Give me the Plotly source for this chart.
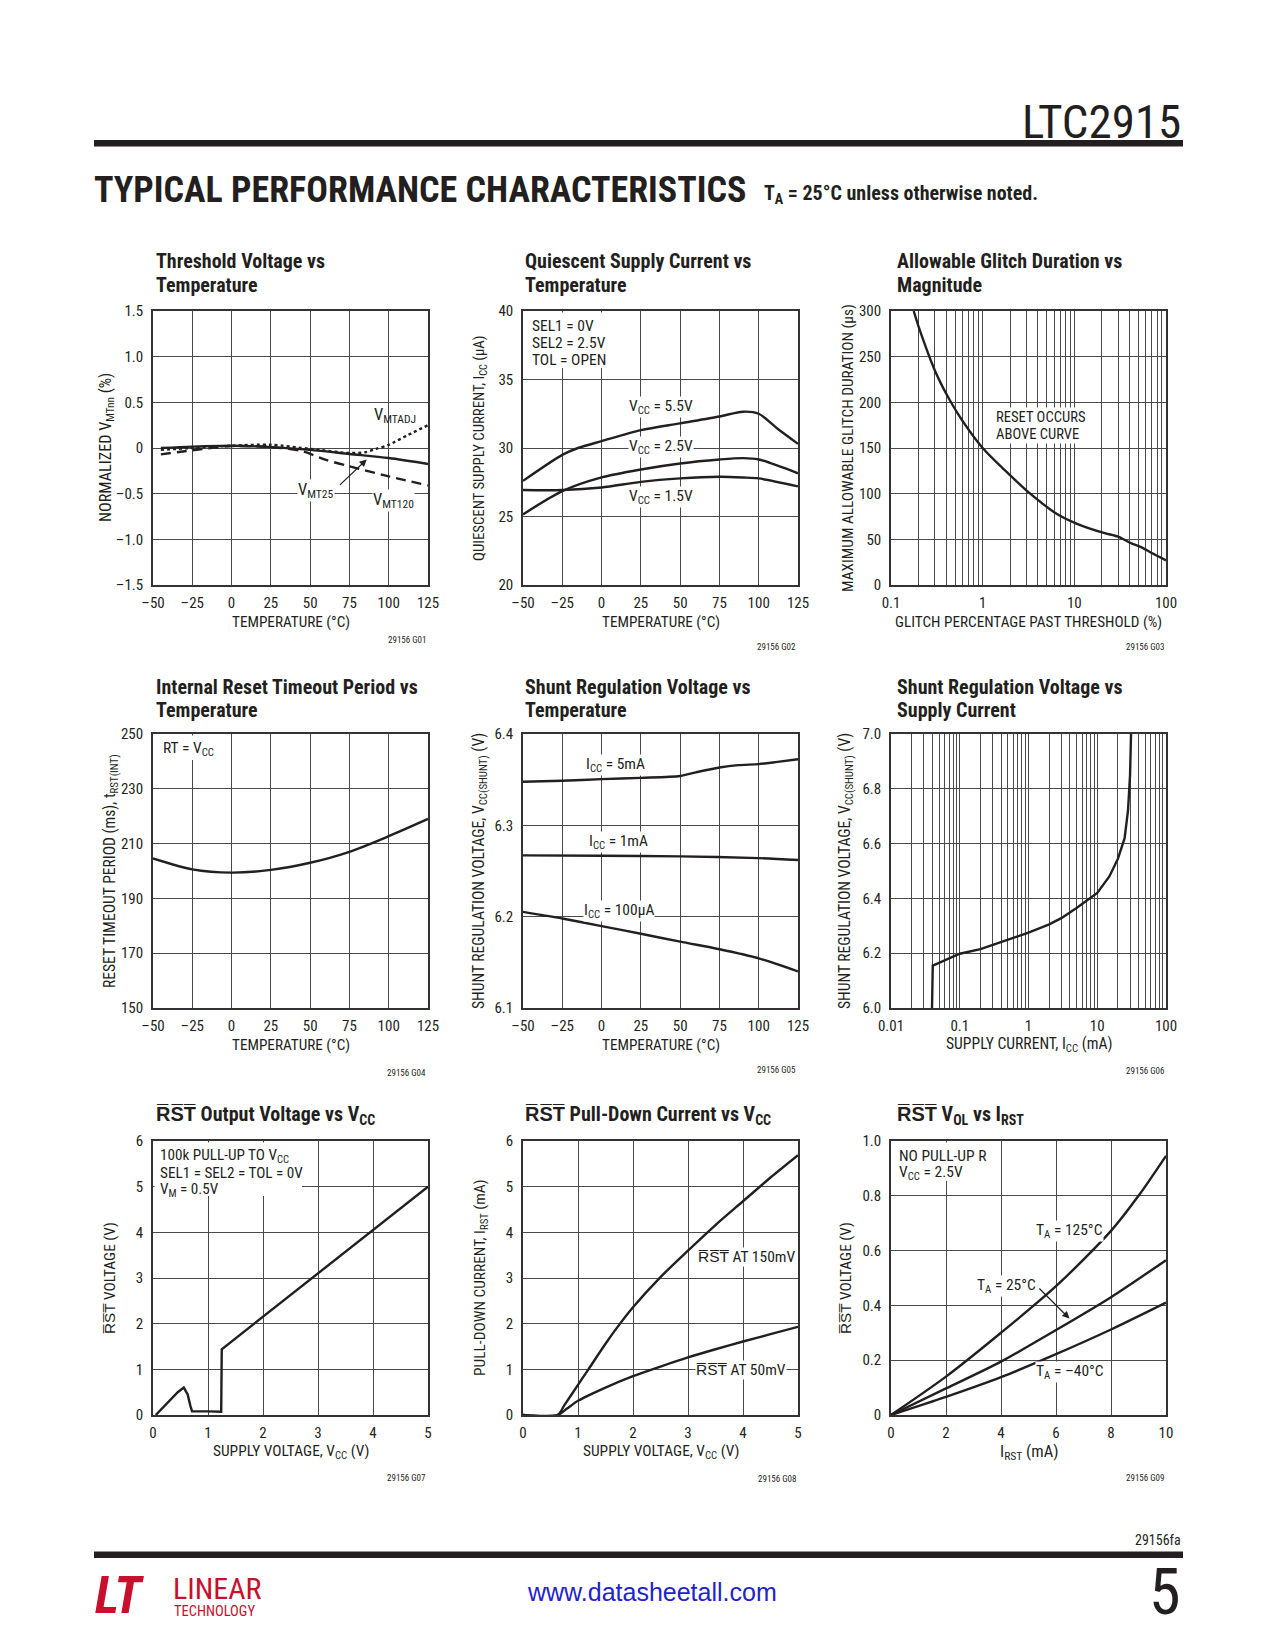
import math
import plotly.graph_objects as go

W, H = 1275, 1650
OFF = 8  # page body margin of the viewer
FN = "Roboto Condensed, Liberation Sans, Arial, sans-serif"
FURL = "Liberation Sans, Arial, sans-serif"
INK = "#231f20"
GRID = "#4a4a4a"


def px(x):
    return (x - OFF) / W


def py(y):
    return 1 - (y - OFF) / H


# ------------------------------------------------------------------ data
temp_ticks = [-50, -25, 0, 25, 50, 75, 100, 125]
temp_ticktext = ["–50", "–25", "0", "25", "50", "75", "100", "125"]

# G01 threshold voltage vs temperature
g01_t25 = [-45, -25, 0, 25, 50, 75, 100, 125]
g01_vmt25 = [0.0, 0.015, 0.025, 0.01, -0.02, -0.065, -0.11, -0.175]
g01_t120 = [-45, -25, 0, 25, 45, 60, 75, 100, 125]
g01_vmt120 = [-0.07, -0.025, 0.02, 0.01, -0.035, -0.13, -0.2, -0.31, -0.41]
g01_tadj = [-45, -25, 0, 25, 50, 75, 85, 92, 100, 112, 125]
g01_vmtadj = [-0.02, 0.0, 0.025, 0.035, -0.01, -0.055, -0.047, -0.01, 0.035, 0.14, 0.25]
g01_yticks = [-1.5, -1.0, -0.5, 0, 0.5, 1.0, 1.5]
g01_ytext = ["–1.5", "–1.0", "–0.5", "0", "0.5", "1.0", "1.5"]

# G02 quiescent supply current vs temperature
g02_t55 = [-50, -25, -15, 0, 25, 50, 75, 90, 100, 112, 125]
g02_vcc55 = [27.6, 29.5, 30.0, 30.5, 31.3, 31.8, 32.3, 32.65, 32.5, 31.4, 30.3]
g02_t = [-50, -25, 0, 25, 50, 75, 90, 100, 125]
g02_vcc25 = [25.15, 26.85, 27.85, 28.43, 28.87, 29.16, 29.26, 29.16, 28.15]
g02_vcc15 = [26.93, 26.93, 27.12, 27.53, 27.78, 27.9, 27.85, 27.78, 27.2]
g02_yticks = [20, 25, 30, 35, 40]

# G03 allowable glitch duration vs magnitude
g03_pct = [0.177, 0.2, 0.313, 0.44, 0.6, 1.0, 2.0, 3.3, 6.4, 10.7, 21, 30, 41, 55, 70, 100]
g03_us = [300, 283, 231, 202, 180, 150, 120, 100, 78, 67, 57, 53, 46, 41, 35, 27]
g03_yticks = [0, 50, 100, 150, 200, 250, 300]

# G04 internal reset timeout period vs temperature
g04_t = [-50, -25, 0, 25, 50, 75, 100, 125]
g04_ms = [204.6, 200.6, 199.4, 200.4, 203.0, 207.0, 212.7, 219.0]
g04_yticks = [150, 170, 190, 210, 230, 250]

# G05 shunt regulation voltage vs temperature
g05_t5 = [-50, -25, 0, 25, 50, 60, 75, 87, 100, 112, 125]
g05_icc5 = [6.3477, 6.3488, 6.3506, 6.352, 6.354, 6.358, 6.3633, 6.3659, 6.367, 6.3695, 6.3724]
g05_t1 = [-50, 0, 50, 100, 125]
g05_icc1 = [6.2671, 6.2667, 6.266, 6.2641, 6.262]
g05_t01 = [-50, -25, 0, 25, 50, 75, 100, 125]
g05_icc01 = [6.2053, 6.198, 6.1897, 6.1813, 6.1726, 6.1643, 6.1544, 6.140]
g05_yticks = [6.1, 6.2, 6.3, 6.4]
g05_ytext = ["6.1", "6.2", "6.3", "6.4"]

# G06 shunt regulation voltage vs supply current
g06_ma = [0.0395, 0.0405, 0.05, 0.07, 0.1, 0.2, 0.3, 0.5, 1, 2, 3, 5, 10, 15, 20, 25, 28, 30, 31]
g06_v = [6.0, 6.155, 6.165, 6.18, 6.198, 6.215, 6.23, 6.248, 6.275, 6.305, 6.328, 6.365,
         6.42, 6.48, 6.545, 6.62, 6.72, 6.85, 7.0]
g06_yticks = [6.0, 6.2, 6.4, 6.6, 6.8, 7.0]
g06_ytext = ["6.0", "6.2", "6.4", "6.6", "6.8", "7.0"]

# G07 RST output voltage vs VCC
g07_vcc = [0.05, 0.3, 0.45, 0.56, 0.63, 0.68, 0.71, 1.0, 1.24, 1.25, 5.0]
g07_vrst = [0.0, 0.3, 0.5, 0.6, 0.45, 0.2, 0.08, 0.08, 0.07, 1.44, 5.0]

# G08 RST pull-down current vs VCC
g08_v150 = [0, 0.63, 0.75, 1.0, 1.19, 1.5, 1.72, 2.0, 2.5, 3.0, 3.5, 4.0, 4.5, 5.0]
g08_i150 = [0, 0, 0.21, 0.66, 1.0, 1.56, 1.93, 2.36, 3.02, 3.6, 4.16, 4.68, 5.2, 5.69]
g08_v50 = [0, 0.63, 0.8, 1.0, 1.5, 2.0, 2.5, 3.0, 3.5, 4.0, 4.5, 5.0]
g08_i50 = [0, 0, 0.14, 0.31, 0.6, 0.85, 1.06, 1.26, 1.44, 1.61, 1.77, 1.93]
g0708_ticks = [0, 1, 2, 3, 4, 5]
g0708_yticks = [0, 1, 2, 3, 4, 5, 6]

# G09 RST VOL vs IRST
g09_ma = [0, 2, 4, 6, 8, 9, 10]
g09_125 = [0, 0.14, 0.30, 0.47, 0.672, 0.8, 0.946]
g09_ma2 = [0, 2, 4, 6, 8, 10]
g09_25 = [0, 0.097, 0.195, 0.31, 0.43, 0.565]
g09_m40 = [0, 0.066, 0.138, 0.222, 0.312, 0.41]
g09_xticks = [0, 2, 4, 6, 8, 10]
g09_yticks = [0, 0.2, 0.4, 0.6, 0.8, 1.0]
g09_ytext = ["0", "0.2", "0.4", "0.6", "0.8", "1.0"]

# log axis grids
g03_grid = [m * d for d in (0.1, 1, 10) for m in range(1, 10)] + [100]
g03_gridtext = [{0.1: "0.1", 1: "1", 10: "10", 100: "100"}.get(round(v, 6), "") for v in g03_grid]
g06_grid = [m * d for d in (0.01, 0.1, 1, 10) for m in range(1, 10)] + [100]
g06_gridtext = [{0.01: "0.01", 0.1: "0.1", 1: "1", 10: "10", 100: "100"}.get(round(v, 6), "") for v in g06_grid]

RST = "R\u0305S\u0305T\u0305"

# ------------------------------------------------------------------ layout geometry
COL_L = [153, 523, 891]
ROW_T = [311, 734, 1141]
PW, PH = 275, 274

fig = go.Figure()

LINE = dict(color=INK, width=2.4)


def add(n, x, y, dash=None, shape="spline", smoothing=0.8):
    ln = dict(LINE)
    if dash:
        ln["dash"] = dash
    fig.add_trace(go.Scatter(x=x, y=y, mode="lines", line=ln, line_shape=shape,
                             line_smoothing=smoothing if shape == "spline" else None,
                             xaxis="x" + ("" if n == 1 else str(n)),
                             yaxis="y" + ("" if n == 1 else str(n)),
                             showlegend=False, hoverinfo="skip"))


add(1, g01_t25, g01_vmt25)
add(1, g01_t120, g01_vmt120, dash="10px,6px")
add(1, g01_tadj, g01_vmtadj, dash="dot")
add(2, g02_t55, g02_vcc55)
add(2, g02_t, g02_vcc25)
add(2, g02_t, g02_vcc15)
add(3, g03_pct, g03_us)
add(4, g04_t, g04_ms)
add(5, g05_t5, g05_icc5)
add(5, g05_t1, g05_icc1)
add(5, g05_t01, g05_icc01)
add(6, g06_ma, g06_v, shape="linear")
add(7, g07_vcc, g07_vrst, shape="linear")
add(8, g08_v150, g08_i150, smoothing=0.8)
add(8, g08_v50, g08_i50, smoothing=0.8)
add(9, g09_ma, g09_125)
add(9, g09_ma2, g09_25)
add(9, g09_ma2, g09_m40)

configs = [
    dict(xr=[-50, 125], xt="linear", xv=temp_ticks, xs=temp_ticktext, yr=[-1.5, 1.5], yv=g01_yticks, ys=g01_ytext),
    dict(xr=[-50, 125], xt="linear", xv=temp_ticks, xs=temp_ticktext, yr=[20, 40], yv=g02_yticks, ys=[str(v) for v in g02_yticks]),
    dict(xr=[-1, 2], xt="log", xv=g03_grid, xs=g03_gridtext, yr=[0, 300], yv=g03_yticks, ys=[str(v) for v in g03_yticks]),
    dict(xr=[-50, 125], xt="linear", xv=temp_ticks, xs=temp_ticktext, yr=[150, 250], yv=g04_yticks, ys=[str(v) for v in g04_yticks]),
    dict(xr=[-50, 125], xt="linear", xv=temp_ticks, xs=temp_ticktext, yr=[6.1, 6.4], yv=g05_yticks, ys=g05_ytext),
    dict(xr=[-2, 2], xt="log", xv=g06_grid, xs=g06_gridtext, yr=[6.0, 7.0], yv=g06_yticks, ys=g06_ytext),
    dict(xr=[0, 5], xt="linear", xv=g0708_ticks, xs=[str(v) for v in g0708_ticks], yr=[0, 6], yv=g0708_yticks, ys=[str(v) for v in g0708_yticks]),
    dict(xr=[0, 5], xt="linear", xv=g0708_ticks, xs=[str(v) for v in g0708_ticks], yr=[0, 6], yv=g0708_yticks, ys=[str(v) for v in g0708_yticks]),
    dict(xr=[0, 10], xt="linear", xv=g09_xticks, xs=[str(v) for v in g09_xticks], yr=[0, 1], yv=g09_yticks, ys=g09_ytext),
]

TICKF = dict(family=FN, size=15, color=INK)
lay = {}
for i, c in enumerate(configs):
    n = i + 1
    r, k = divmod(i, 3)
    L, T = COL_L[k], ROW_T[r]
    sx = "" if n == 1 else str(n)
    common = dict(showgrid=True, gridcolor=GRID, gridwidth=1.3, showline=True, linecolor="#333333",
                  linewidth=1.6, mirror=True, ticks="", zeroline=False, tickfont=TICKF, fixedrange=True,
                  automargin=False)
    lay["xaxis" + sx] = dict(domain=[px(L), px(L + PW)], range=c["xr"], type=c["xt"], tickmode="array",
                             tickvals=c["xv"], ticktext=c["xs"], anchor="y" + sx, ticklabelstandoff=3, **common)
    lay["yaxis" + sx] = dict(domain=[py(T + PH), py(T)], range=c["yr"], tickmode="array",
                             tickvals=c["yv"], ticktext=c["ys"], anchor="x" + sx, ticklabelstandoff=5, **common)

ann = []
shapes = []


def txt(text, x, y, size=15, xanchor="center", yanchor="middle", angle=0, bold=False, color=INK,
        family=FN, xref="paper", yref="paper", bg=None, align="center"):
    d = dict(text=text, x=x, y=y, xref=xref, yref=yref, showarrow=False, xanchor=xanchor,
             yanchor=yanchor, textangle=angle, align=align,
             font=dict(family=family, size=size, color=color, weight="bold" if bold else "normal"))
    if bg:
        d["bgcolor"] = bg
        d["borderpad"] = 0
    ann.append(d)


# header
txt("LTC2915", px(1183), py(121), size=47, xanchor="right")
txt("TYPICAL PERFORMANCE CHARACTERISTICS", px(92), py(190), size=36, xanchor="left", bold=True)
txt("T<sub>A</sub> = 25°C unless otherwise noted.", px(762), py(194), size=20, xanchor="left", bold=True)

# chart titles
titles = [
    ["Threshold Voltage vs", "Temperature"],
    ["Quiescent Supply Current vs", "Temperature"],
    ["Allowable Glitch Duration vs", "Magnitude"],
    ["Internal Reset Timeout Period vs", "Temperature"],
    ["Shunt Regulation Voltage vs", "Temperature"],
    ["Shunt Regulation Voltage vs", "Supply Current"],
    [RST + " Output Voltage vs V<sub>CC</sub>"],
    [RST + " Pull-Down Current vs V<sub>CC</sub>"],
    [RST + " V<sub>OL</sub> vs I<sub>RST</sub>"],
]
title_y = [[261, 284.5], [687, 710], [1115]]
title_dx = [0, -1, 3]
for i, lines in enumerate(titles):
    r, k = divmod(i, 3)
    for j, t in enumerate(lines):
        txt(t, px(COL_L[k] + title_dx[k] + 1), py(title_y[r][j]), size=20, xanchor="left", bold=True)

# axis titles
xtitles = ["TEMPERATURE (°C)", "TEMPERATURE (°C)", "GLITCH PERCENTAGE PAST THRESHOLD (%)",
           "TEMPERATURE (°C)", "TEMPERATURE (°C)", "SUPPLY CURRENT, I<sub>CC</sub> (mA)",
           "SUPPLY VOLTAGE, V<sub>CC</sub> (V)", "SUPPLY VOLTAGE, V<sub>CC</sub> (V)", "I<sub>RST</sub> (mA)"]
xtitle_size = [15.2, 15.2, 15.2, 15.2, 15.2, 15.6, 15.4, 15.4, 16.5]
ytitles = ["NORMALIZED V<sub>MTnn</sub> (%)", "QUIESCENT SUPPLY CURRENT, I<sub>CC</sub> (µA)",
           "MAXIMUM ALLOWABLE GLITCH DURATION (µs)", "RESET TIMEOUT PERIOD (ms), t<sub>RST(INT)</sub>",
           "SHUNT REGULATION VOLTAGE, V<sub>CC(SHUNT)</sub> (V)", "SHUNT REGULATION VOLTAGE, V<sub>CC(SHUNT)</sub> (V)",
           RST + " VOLTAGE (V)", "PULL-DOWN CURRENT, I<sub>RST</sub> (mA)", RST + " VOLTAGE (V)"]
ytitle_size = [16.2, 14.8, 15.3, 15.6, 15.6, 15.6, 15.3, 15.4, 15.3]
ytitle_off = [46, 43, 43, 42, 43, 45, 43, 42, 45]
codes = ["29156 G01", "29156 G02", "29156 G03", "29156 G04", "29156 G05", "29156 G06",
         "29156 G07", "29156 G08", "29156 G09"]
code_y = [640, 647, 647, 1073, 1070, 1071, 1478, 1479, 1478]
for i in range(9):
    r, k = divmod(i, 3)
    L, T = COL_L[k], ROW_T[r]
    txt(xtitles[i], px(L + PW / 2), py(T + PH + 37), size=xtitle_size[i])
    txt(ytitles[i], px(L - ytitle_off[i]), py(T + PH / 2), size=ytitle_size[i], angle=-90)
    txt(codes[i], px(L + PW), py(code_y[i]), size=9, xanchor="right")


# in-plot labels
def lab(n, text, x, y, xanchor="center", bg="white", size=15.5, yanchor="middle"):
    sx = "" if n == 1 else str(n)
    txt(text, x, y, size=size, xanchor=xanchor, yanchor=yanchor, xref="x" + sx, yref="y" + sx, bg=bg)


def boxlab(n, lines, right, bottom, dx=6, size=15.5):
    r, k = divmod(n - 1, 3)
    L, T = COL_L[k], ROW_T[r]
    shapes.append(dict(type="rect", xref="paper", yref="paper", layer="above",
                       x0=px(L + 1.5), x1=px(right), y0=py(bottom), y1=py(T + 1.5),
                       fillcolor="white", line=dict(width=0)))
    for j, t in enumerate(lines):
        txt(t, px(L + dx), py(T + 15 + 16.85 * j), size=size, xanchor="left")


lab(1, "V<sub>MTADJ</sub>", 104, 0.36, bg=None, size=16.5)
lab(1, "V<sub>MT25</sub>", 54, -0.47, size=16.5)
lab(1, "V<sub>MT120</sub>", 103, -0.57, size=16.5)
ann.append(dict(x=86, y=-0.125, ax=68, ay=-0.42, xref="x", yref="y", axref="x", ayref="y", text="",
                showarrow=True, arrowhead=2, arrowsize=1.2, arrowwidth=1.2, arrowcolor=INK))

boxlab(2, ["SEL1 = 0V", "SEL2 = 2.5V", "TOL = OPEN"], right=604, bottom=368, dx=7)
lab(2, "V<sub>CC</sub> = 5.5V", 37.5, 33.0)
lab(2, "V<sub>CC</sub> = 2.5V", 37.5, 30.04)
lab(2, "V<sub>CC</sub> = 1.5V", 37.5, 26.44)

# log axis: annotation x is given in log10 units
lab(3, "RESET OCCURS", math.log10(1.36), 183.5, xanchor="left", size=14.6)
lab(3, "ABOVE CURVE", math.log10(1.36), 165, xanchor="left", size=14.6)

boxlab(4, ["RT = V<sub>CC</sub>"], right=215, bottom=760, dx=8)

lab(5, "I<sub>CC</sub> = 5mA", 8.9, 6.3666)
lab(5, "I<sub>CC</sub> = 1mA", 11, 6.2816)
lab(5, "I<sub>CC</sub> = 100µA", 11, 6.206)

boxlab(7, ["100k PULL-UP TO V<sub>CC</sub>", "SEL1 = SEL2 = TOL = 0V", "V<sub>M</sub> = 0.5V"],
       right=302, bottom=1196, dx=4.5, size=15.2)

lab(8, RST + " AT 150mV", 3.16, 3.46, xanchor="left")
lab(8, RST + " AT 50mV", 3.12, 0.98, xanchor="left")

boxlab(9, ["NO PULL-UP R", "V<sub>CC</sub> = 2.5V"], right=990, bottom=1181, dx=5.5)
lab(9, "T<sub>A</sub> = 125°C", 6.5, 0.673)
lab(9, "T<sub>A</sub> = 25°C", 4.2, 0.47)
lab(9, "T<sub>A</sub> = –40°C", 6.5, 0.158)
ann.append(dict(x=6.49, y=0.352, ax=5.34, ay=0.467, xref="x9", yref="y9", axref="x9", ayref="y9", text="",
                showarrow=True, arrowhead=2, arrowsize=1.2, arrowwidth=1.2, arrowcolor=INK))

# footer
txt("29156fa", px(1183), py(1540), size=14, xanchor="right")
txt("www.datasheetall.com", px(652), py(1592), size=25, color="#2222cc", family=FURL)
txt("5", px(1183), py(1592), size=64, xanchor="right")
txt("<i><b>LT</b></i>", px(93), py(1595), size=52, xanchor="left", color="#c8102e", bold=True)
txt("LINEAR", px(171), py(1588), size=30, xanchor="left", color="#c8102e")
txt("TECHNOLOGY", px(172), py(1611), size=14.5, xanchor="left", color="#c8102e")

shapes += [
    dict(type="rect", xref="paper", yref="paper", x0=px(94), x1=px(1183), y0=py(146.5), y1=py(140),
         fillcolor=INK, line=dict(width=0)),
    dict(type="rect", xref="paper", yref="paper", x0=px(94), x1=px(1183), y0=py(1558), y1=py(1551.5),
         fillcolor=INK, line=dict(width=0)),
]

fig.update_layout(template="none", width=W, height=H, margin=dict(l=0, r=0, t=0, b=0, pad=0),
                  autosize=False, paper_bgcolor="white",
                  plot_bgcolor="white", showlegend=False, annotations=ann, shapes=shapes,
                  font=dict(family=FN, color=INK), **lay)

fig.write_html("out.html")
